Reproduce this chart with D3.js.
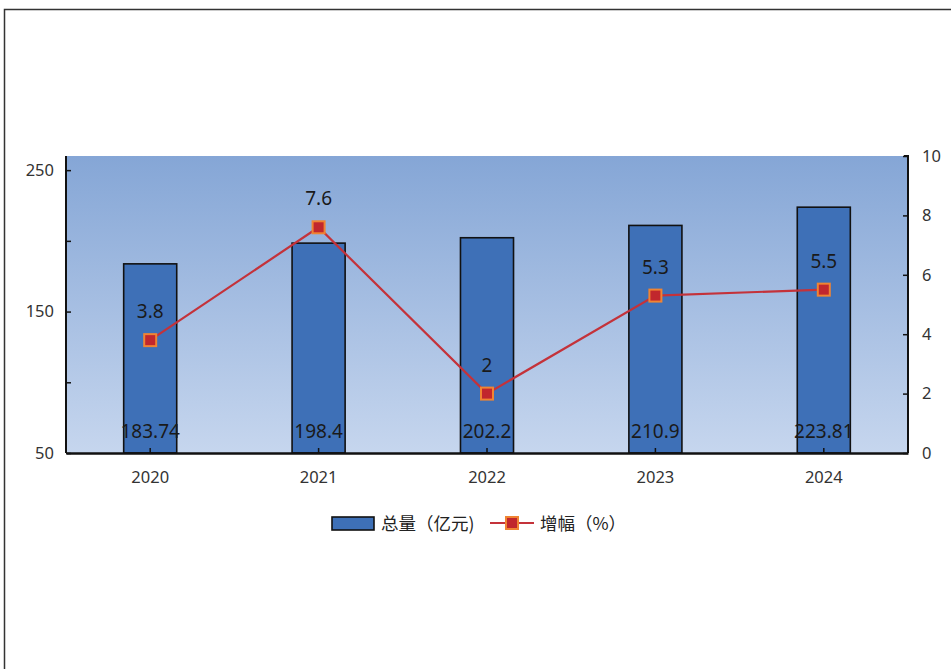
<!DOCTYPE html>
<html>
<head>
<meta charset="utf-8">
<script src="https://cdn.jsdelivr.net/npm/d3@7"></script>
<style>
  body { margin: 0; background: #fff; }
  svg { display: block; }
</style>
</head>
<body>
<div id="chart_area"></div>
<script>
// data
var years = ["2020", "2021", "2022", "2023", "2024"];
var totals = [183.74, 198.4, 202.2, 210.9, 223.81];   // 总量（亿元)
var growth = [3.8, 7.6, 2, 5.3, 5.5];                 // 增幅（%）
var leftTicks = [50, 100, 150, 200, 250];
var leftLabels = ["50", "", "150", "", "250"];
var rightTicks = [0, 2, 4, 6, 8, 10];

var canvas_width = 951,
  canvas_height = 669;

var margin = { top: 156, right: 43, bottom: 216, left: 66 },
  plot_width = canvas_width - margin.left - margin.right,
  plot_height = canvas_height - margin.top - margin.bottom;

var numFont = "'Noto Sans', 'Open Sans', sans-serif";
var cjkFont = "'Noto Sans CJK SC', 'Noto Sans', sans-serif";

var svg = d3.select("#chart_area")
  .append("svg")
  .attr("width", canvas_width)
  .attr("height", canvas_height);

// outer frame (runs off the right and bottom edges)
svg.append("rect")
  .attr("x", 4.5).attr("y", 9.5)
  .attr("width", 1000).attr("height", 1000)
  .attr("fill", "none")
  .attr("stroke", "#333")
  .attr("stroke-width", 1.5);

var defs = svg.append("defs");
var grad = defs.append("linearGradient")
  .attr("id", "bg")
  .attr("x1", 0).attr("y1", 0).attr("x2", 0).attr("y2", 1);
grad.append("stop").attr("offset", "0%").attr("stop-color", "#85a6d6");
grad.append("stop").attr("offset", "100%").attr("stop-color", "#c6d6ee");

var g = svg.append("g")
  .attr("transform", "translate(" + margin.left + "," + margin.top + ")");

var x = d3.scaleBand()
  .domain(years)
  .range([0, plot_width])
  .paddingInner(0.685)
  .paddingOuter(0.3425);

var yL = d3.scaleLinear().domain([50, 260]).range([plot_height, 0]);
var yR = d3.scaleLinear().domain([0, 10]).range([plot_height, 0]);

g.append("rect")
  .attr("width", plot_width)
  .attr("height", plot_height)
  .attr("fill", "url(#bg)");

// bars
g.append("g").selectAll("rect")
  .data(years)
  .join("rect")
  .attr("x", d => x(d))
  .attr("y", (d, i) => yL(totals[i]))
  .attr("width", x.bandwidth())
  .attr("height", (d, i) => plot_height - yL(totals[i]))
  .attr("fill", "#3e70b7")
  .attr("stroke", "#111")
  .attr("stroke-width", 1.6);

// bar value labels, sitting near the bottom
g.append("g").selectAll("text")
  .data(years)
  .join("text")
  .attr("x", d => x(d) + x.bandwidth() / 2)
  .attr("y", plot_height - 15)
  .attr("text-anchor", "middle")
  .attr("font-family", numFont)
  .attr("font-size", 19)
  .attr("fill", "#1a1a1a")
  .text((d, i) => totals[i]);

// axes
var axL = d3.axisLeft(yL).tickValues(leftTicks)
  .tickSize(-5).tickPadding(12)
  .tickFormat((d, i) => leftLabels[i]);
var axR = d3.axisRight(yR).tickValues(rightTicks)
  .tickSize(-5).tickPadding(14);
var axB = d3.axisBottom(x).tickSize(-5).tickPadding(18).tickSizeOuter(0);

function styleAxis(sel) {
  sel.select(".domain").attr("stroke", "#111").attr("stroke-width", 2);
  sel.selectAll(".tick line").attr("stroke", "#111").attr("stroke-width", 1.5);
  sel.selectAll(".tick text")
    .attr("font-family", numFont)
    .attr("font-size", 16.5)
    .attr("fill", "#333");
}

g.append("g").call(axL).call(styleAxis)
  .call(s => s.select(".domain").attr("d", "M0," + plot_height + "V0"));
g.append("g").attr("transform", "translate(" + plot_width + ",0)")
  .call(axR).call(styleAxis)
  .call(s => s.select(".domain").attr("d", "M-4,0H0V" + plot_height));
g.append("g").attr("transform", "translate(0," + plot_height + ")")
  .call(axB).call(styleAxis)
  .call(s => s.select(".domain").attr("stroke-width", 2.5));

// growth line
var line = d3.line()
  .x((d, i) => x(years[i]) + x.bandwidth() / 2)
  .y(d => yR(d));

g.append("path")
  .datum(growth)
  .attr("d", line)
  .attr("fill", "none")
  .attr("stroke", "#c4323a")
  .attr("stroke-width", 2.2);

g.append("g").selectAll("rect")
  .data(growth)
  .join("rect")
  .attr("x", (d, i) => x(years[i]) + x.bandwidth() / 2 - 6)
  .attr("y", d => yR(d) - 6)
  .attr("width", 12)
  .attr("height", 12)
  .attr("fill", "#c1272d")
  .attr("stroke", "#f08432")
  .attr("stroke-width", 2);

g.append("g").selectAll("text")
  .data(growth)
  .join("text")
  .attr("x", (d, i) => x(years[i]) + x.bandwidth() / 2)
  .attr("y", d => yR(d) - 22)
  .attr("text-anchor", "middle")
  .attr("font-family", numFont)
  .attr("font-size", 19)
  .attr("fill", "#1a1a1a")
  .text(d => d);

// legend
var leg = svg.append("g").attr("transform", "translate(0,523)");
leg.append("rect")
  .attr("x", 332).attr("y", -6)
  .attr("width", 42).attr("height", 13)
  .attr("fill", "#3e70b7")
  .attr("stroke", "#111")
  .attr("stroke-width", 1.6);
leg.append("text")
  .attr("x", 381).attr("y", 6.5)
  .attr("font-family", cjkFont)
  .attr("font-size", 17.5)
  .attr("fill", "#222")
  .text("总量（亿元)");
leg.append("line")
  .attr("x1", 490).attr("x2", 534)
  .attr("y1", 0).attr("y2", 0)
  .attr("stroke", "#c4323a")
  .attr("stroke-width", 2.2);
leg.append("rect")
  .attr("x", 506).attr("y", -6)
  .attr("width", 12).attr("height", 12)
  .attr("fill", "#c1272d")
  .attr("stroke", "#f08432")
  .attr("stroke-width", 2);
leg.append("text")
  .attr("x", 540).attr("y", 6.5)
  .attr("font-family", cjkFont)
  .attr("font-size", 17.5)
  .attr("fill", "#222")
  .text("增幅（%）");
</script>
</body>
</html>
